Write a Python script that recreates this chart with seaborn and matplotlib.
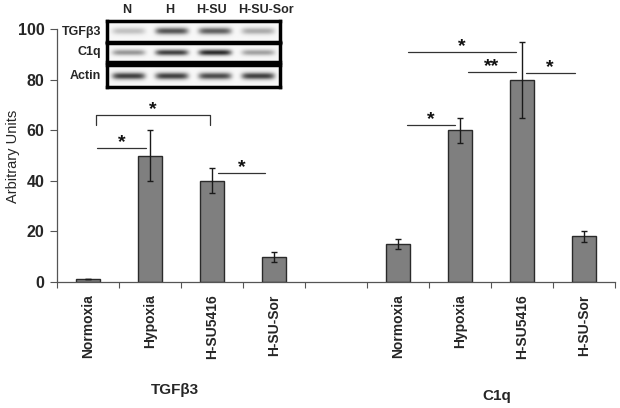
import numpy as np
import pandas as pd
import matplotlib
matplotlib.use("Agg")
import matplotlib.pyplot as plt
import seaborn as sns

# ---------------- data ----------------
conditions = ["Normoxia", "Hypoxia", "H-SU5416", "H-SU-Sor"]
groups = ["TGFβ3", "C1q"]
tgf_values = [1, 50, 40, 10]
tgf_errors = [0, 10, 5, 2]
c1q_values = [15, 60, 80, 18]
c1q_errors = [2, 5, 15, 2]
y_ticks = [0, 20, 40, 60, 80, 100]

# significance annotations: (x_start, x_end, y, label, bracket_drop)
tgf_sig = [(0.15, 0.93, 53, "*", 0), (0.13, 1.96, 66, "*", 4), (2.09, 2.86, 43, "*", 0)]
c1q_sig = [(5.14, 5.92, 62, "*", 0), (5.16, 6.90, 91, "*", 0),
           (6.13, 6.90, 83, "**", 0), (7.06, 7.85, 82.5, "*", 0)]

# blot inset
blot_cols = ["N", "H", "H-SU", "H-SU-Sor"]
blot_rows = ["TGFβ3", "C1q", "Actin"]
blot_intensity = [[0.25, 0.75, 0.70, 0.35],
                  [0.45, 0.85, 0.95, 0.40],
                  [0.85, 0.85, 0.80, 0.85]]

# ---------------- figure ----------------
sns.set_theme(style="white")
plt.rcParams['font.family'] = ['Liberation Sans', 'DejaVu Sans']
plt.rcParams['font.weight'] = 'bold'

fig = plt.figure(figsize=(6.2, 4.08), dpi=100)
ax = fig.add_axes([57/620, 1-282/408, (615-57)/620, (282-29)/408])

pos = list(range(4)) + list(range(5, 9))
df = pd.DataFrame({
    "pos": pos,
    "value": tgf_values + c1q_values,
    "err": tgf_errors + c1q_errors,
    "cond": conditions + conditions,
})
order = list(range(9))
sns.barplot(data=df, x="pos", y="value", order=order, color="#7f7f7f",
            saturation=1, width=0.4, edgecolor="#2a2a2a", linewidth=1.0,
            errorbar=None, ax=ax)
ax.errorbar(df["pos"], df["value"], yerr=df["err"], fmt="none",
            ecolor="#1a1a1a", elinewidth=1.0, capsize=2.5, capthick=1.0)

ax.set_xlim(-0.5, 8.5)
ax.set_ylim(0, 100)
ax.set_yticks(y_ticks)
ax.set_yticklabels([str(t) for t in y_ticks], fontsize=11.5, fontweight="bold")
ax.set_xticks([i - 0.5 for i in range(10)])
ax.set_xticklabels([""] * 10)
ax.set_xticks(pos, minor=True)
ax.set_xticklabels(df["cond"], minor=True, rotation=90, fontsize=10,
                   fontweight="bold")
ax.tick_params(axis="x", which="major", direction="out", length=4, width=0.8,
               color="#555555", bottom=True)
ax.tick_params(axis="x", which="minor", length=0, pad=9)
ax.tick_params(axis="y", direction="out", length=5, width=0.8, color="#555555",
               left=True, pad=4)
for s in ["top", "right"]:
    ax.spines[s].set_visible(False)
for s in ["left", "bottom"]:
    ax.spines[s].set_color("#555555")
    ax.spines[s].set_linewidth(0.9)
ax.set_xlabel("")
ax.set_ylabel("")
fig.text(13/620, 1-156/408, "Arbitrary Units", rotation=90, ha="center",
         va="center", fontsize=10.5, fontweight="medium")

# group labels
ax.text(1.4, -0.425, groups[0], transform=ax.get_xaxis_transform(),
        ha="center", va="center", fontsize=11, fontweight="bold")
ax.text(6.6, -0.45, groups[1], transform=ax.get_xaxis_transform(),
        ha="center", va="center", fontsize=11, fontweight="bold")

# significance lines
for x0, x1, y, lab, drop in tgf_sig + c1q_sig:
    if drop:
        ax.plot([x0, x0, x1, x1], [y - drop, y, y, y - drop], color="#333333", lw=0.9)
    else:
        ax.plot([x0, x1], [y, y], color="#333333", lw=0.9)
    ax.text((x0 + x1) / 2, y - 1.2, lab, ha="center", va="bottom",
            fontsize=14, fontweight="bold", color="#111111")

# ---------------- blot inset ----------------
row_boxes = [(21, 42), (43, 62), (65, 87)]
bx0, bx1 = 107, 280
for r, (ry0, ry1) in enumerate(row_boxes):
    bax = fig.add_axes([bx0/620, 1-ry1/408, (bx1-bx0)/620, (ry1-ry0)/408])
    h, w = 40, 340
    yy = np.linspace(-1, 1, h)[:, None]
    xx = np.linspace(0, 4, w)[None, :]
    img = np.zeros((h, w))
    for c, inten in enumerate(blot_intensity[r]):
        lane = np.exp(-((xx - (c + 0.5)) / 0.38) ** 6)
        band = np.exp(-(yy / 0.32) ** 2)
        img += inten * lane * band
    bax.imshow(0.97 - np.clip(img, 0, 1) * 0.85, cmap="gray", vmin=0, vmax=1,
               aspect="auto", interpolation="bilinear")
    bax.set_xticks([]); bax.set_yticks([])
    for s in bax.spines.values():
        s.set_linewidth(2.5); s.set_color("black")
    fig.text((bx0 - 6)/620, 1-(ry0+ry1)/2/408, blot_rows[r], ha="right",
             va="center", fontsize=9, fontweight="bold")
col_label_x = [127, 170, 211, 266]
for c, lab in enumerate(blot_cols):
    fig.text(col_label_x[c]/620, 1-10/408, lab, ha="center",
             va="center", fontsize=9, fontweight="bold")

fig.savefig("out.png", dpi=100)
